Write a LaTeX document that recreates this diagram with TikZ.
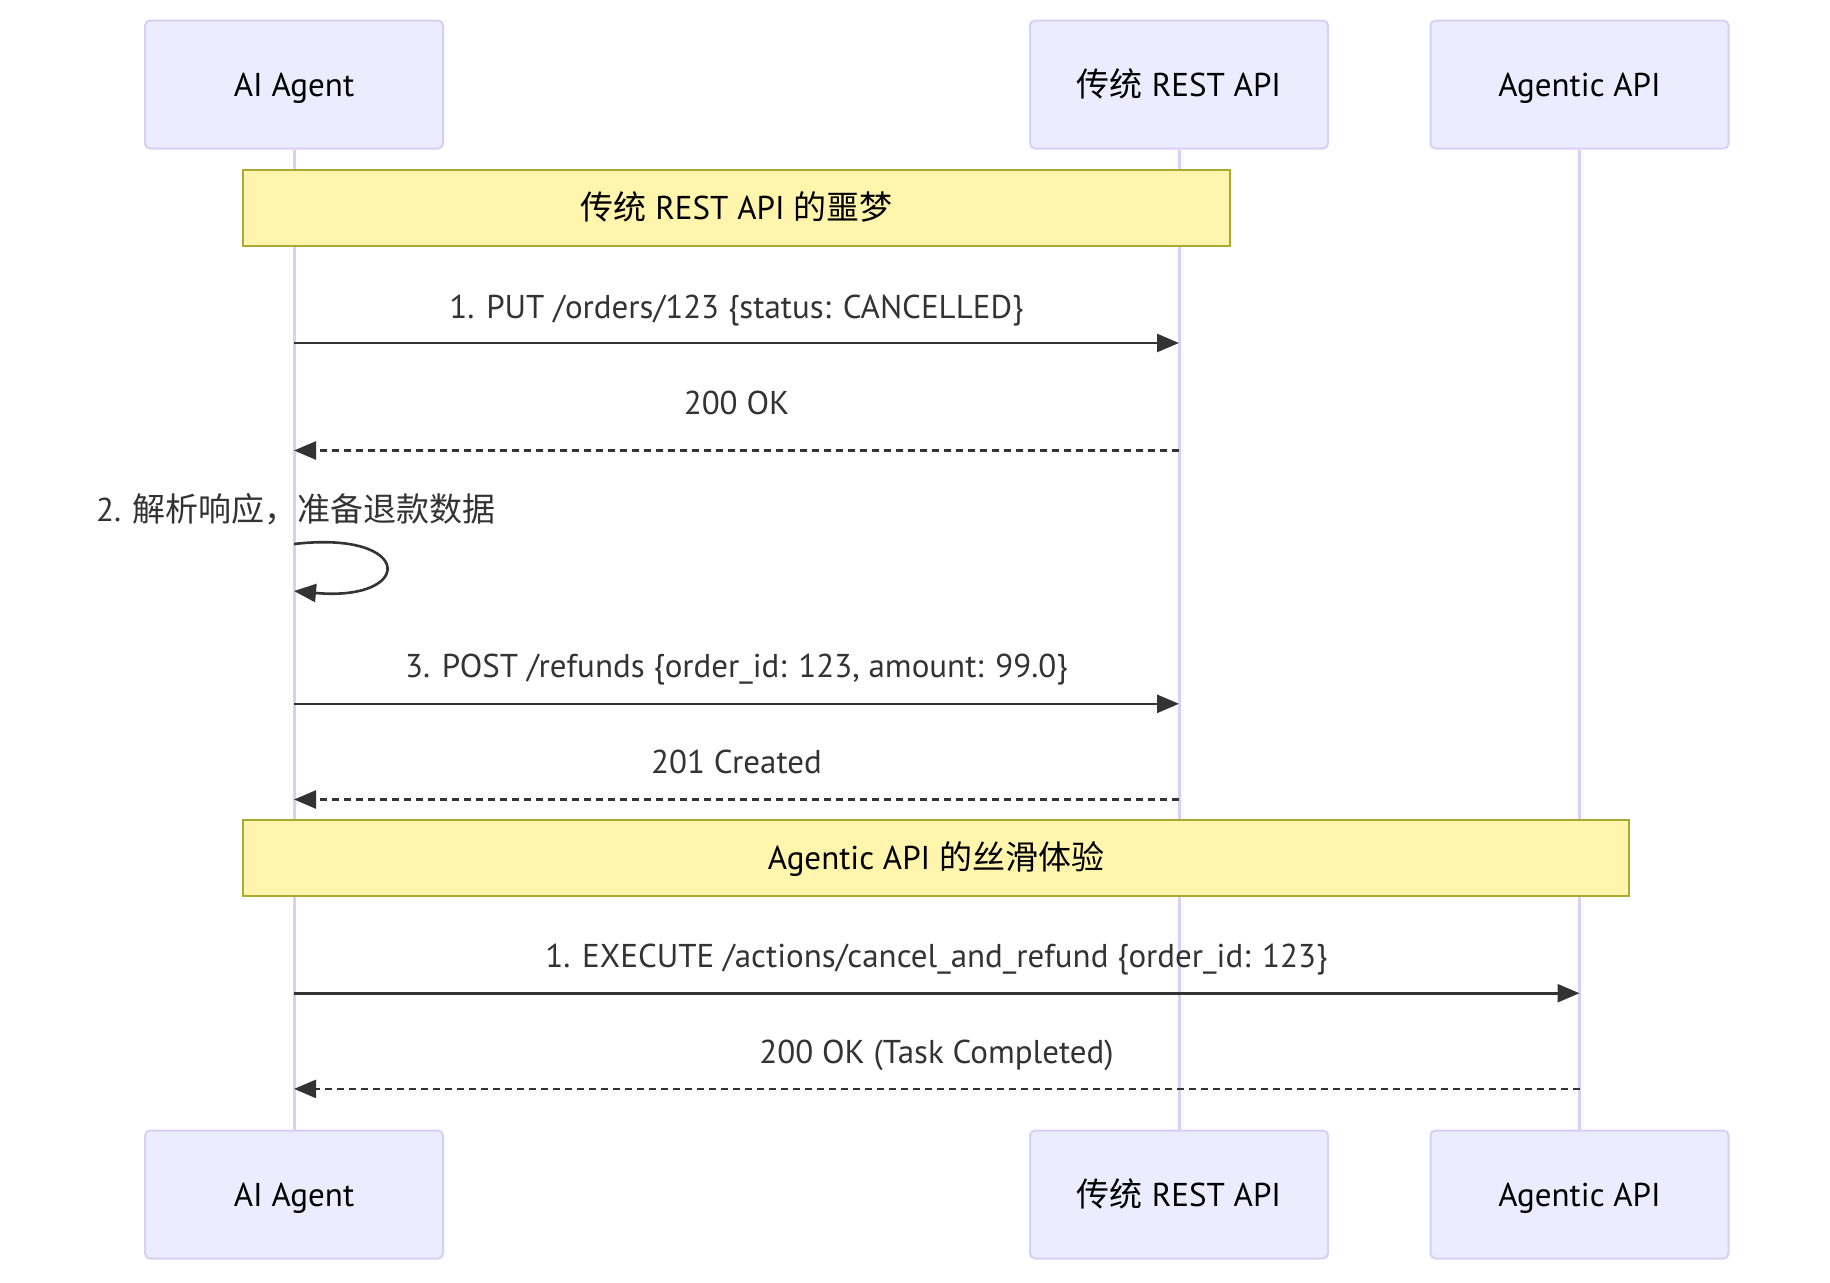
\documentclass[tikz,border=0pt]{standalone}
\usepackage{fontspec}
\setmainfont{PT Sans}
\newfontfamily\cjk{Noto Sans CJK SC}
\usetikzlibrary{arrows.meta}
\definecolor{actfill}{HTML}{ECECFF}
\definecolor{actline}{HTML}{D9CEF3}
\definecolor{notefill}{HTML}{FFF5AD}
\definecolor{noteline}{HTML}{AAAA33}
\definecolor{msgcol}{HTML}{333333}
\newcommand\dgfont{\fontsize{33}{38}\selectfont}
\begin{document}
\begin{tikzpicture}[x=1pt,y=-1pt,
  actor/.style={draw=actline, fill=actfill, line width=2pt, rounded corners=5pt,
    minimum width=298pt, minimum height=128pt, font=\dgfont, text=black,
    text height=27pt, text depth=4pt},
  notebox/.style={draw=noteline, fill=notefill, line width=2pt,
    minimum height=76pt, font=\dgfont, text=black, text height=27pt, text depth=4pt},
  lifeline/.style={draw=actline, line width=3pt},
  msglabel/.style={font=\dgfont, text=msgcol, inner sep=0pt, text height=27pt, text depth=4pt},
  msg/.style={draw=msgcol, line width=2.6pt, -{Triangle[length=22pt,width=18pt]}},
  reply/.style={msg, dash pattern=on 7pt off 5pt}]
\useasboundingbox (0,0) rectangle (1830,1282);
% actors
\node[actor] (at) at (294,84.5) {AI Agent};
\node[actor] (rt) at (1179,84.5) {{\cjk 传统} REST API};
\node[actor] (gt) at (1579.5,84.5) {Agentic API};
\node[actor] (ab) at (294,1194.5) {AI Agent};
\node[actor] (rb) at (1179,1194.5) {{\cjk 传统} REST API};
\node[actor] (gb) at (1579.5,1194.5) {Agentic API};
% lifelines
\draw[lifeline] (at.south) -- (ab.north);
\draw[lifeline] (rt.south) -- (rb.north);
\draw[lifeline] (gt.south) -- (gb.north);
% notes
\node[notebox, minimum width=987pt] (n1) at (736.5,208.3) {{\cjk 传统} REST API {\cjk 的噩梦}};
\node[notebox, minimum width=1386pt] (n2) at (936,857.8) {Agentic API {\cjk 的丝滑体验}};
% coordinates on lifelines
\coordinate (a1) at (at.south |- 0,343);
\coordinate (r1) at (rt.south |- 0,343);
\coordinate (a2) at (at.south |- 0,450.5);
\coordinate (r2) at (rt.south |- 0,450.5);
\coordinate (s1) at (at.south |- 0,544);
\coordinate (s2) at (at.south |- 0,591);
\coordinate (a3) at (at.south |- 0,703.8);
\coordinate (r3) at (rt.south |- 0,703.8);
\coordinate (a4) at (at.south |- 0,799.5);
\coordinate (r4) at (rt.south |- 0,799.5);
\coordinate (a5) at (at.south |- 0,993.2);
\coordinate (g5) at (gt.south |- 0,993.2);
\coordinate (a6) at (at.south |- 0,1088.9);
\coordinate (g6) at (gt.south |- 0,1088.9);
% messages
\node[msglabel] (l1) at (736.5,307) {1. PUT /orders/123 \{status: CANCELLED\}};
\draw[msg] (a1) -- (r1);
\node[msglabel] (l2) at (736.5,402.6) {200 OK};
\draw[reply] (r2) -- (a2);
\node[msglabel] (l3) at (296,510) {2. {\cjk 解析响应，准备退款数据}};
\draw[msg] (s1) .. controls (415,530) and (415,602) .. (s2);
\node[msglabel] (l4) at (736.5,666.4) {3. POST /refunds \{order\_id: 123, amount: 99.0\}};
\draw[msg] (a3) -- (r3);
\node[msglabel] (l5) at (736.5,762.1) {201 Created};
\draw[reply] (r4) -- (a4);
\node[msglabel] (l6) at (936.5,955.9) {1. EXECUTE /actions/cancel\_and\_refund \{order\_id: 123\}};
\draw[msg] (a5) -- (g5);
\node[msglabel] (l7) at (936.5,1051.6) {200 OK (Task Completed)};
\draw[reply] (g6) -- (a6);
\end{tikzpicture}
\end{document}
